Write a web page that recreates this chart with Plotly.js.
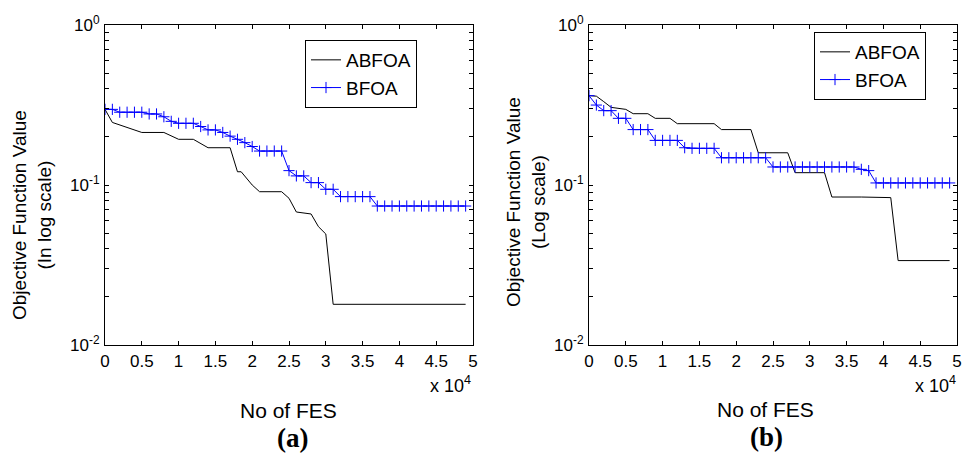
<!DOCTYPE html>
<html><head><meta charset="utf-8">
<script src="https://cdn.plot.ly/plotly-3.0.1.min.js"></script>
<style>html,body{margin:0;padding:0;background:#fff}#c{width:975px;height:457px}</style>
</head><body><div id="c"></div>
<script>
// ---- data ----
const fesMarkers = [];
for (let k = 0; k < 50; k++) fesMarkers.push(k * 1000);

// Plot (a)
const aBFOA = [0.297,0.297,0.285,0.285,0.285,0.285,0.278,0.278,0.267,0.250,
               0.243,0.243,0.243,0.232,0.221,0.221,0.213,0.202,0.193,0.184,
               0.174,0.163,0.163,0.163,0.163,0.123,0.114,0.114,0.1035,0.1035,
               0.094,0.094,0.0846,0.0846,0.0846,0.0846,0.0846,0.0739,0.0739,0.0739,
               0.0739,0.0739,0.0739,0.0739,0.0739,0.0739,0.0739,0.0739,0.0739,0.0739];
const aABFOA_x = [0,1000,5000,8000,10000,12000,14000,17000,18000,18500,20000,21000,24000,25000,26000,28000,29000,30000,31000,49000];
const aABFOA_y = [0.297,0.246,0.213,0.213,0.193,0.193,0.171,0.171,0.121,0.121,0.100,0.0908,0.0908,0.0826,0.0678,0.0659,0.0549,0.0494,0.01796,0.01796];

// Plot (b)
const bBFOA = [0.3617,0.316,0.2916,0.2916,0.261,0.261,0.222,0.222,0.222,0.190,
               0.190,0.190,0.190,0.171,0.1695,0.1695,0.1695,0.1695,0.148,0.148,
               0.148,0.148,0.148,0.148,0.148,0.1296,0.1296,0.1296,0.1296,0.1296,
               0.1296,0.1296,0.1296,0.1296,0.1296,0.1296,0.1296,0.1253,0.123,0.103,
               0.103,0.103,0.103,0.103,0.103,0.103,0.103,0.103,0.103,0.103];
const bABFOA_x = [0,1000,2000,3000,5000,6000,8000,9000,11000,12000,17000,18000,22000,23000,27000,28000,32000,33000,37000,41000,42000,49000];
const bABFOA_y = [0.3617,0.359,0.332,0.3057,0.297,0.279,0.279,0.261,0.261,0.2417,0.2417,0.222,0.222,0.159,0.159,0.1194,0.1194,0.0841,0.0841,0.0834,0.0337,0.0337];

const xTickVals = [0,5000,10000,15000,20000,25000,30000,35000,40000,45000,50000];
const xTickText = ['0','0.5','1','1.5','2','2.5','3','3.5','4','4.5','5'];
const yTickVals = [0.01, 0.1, 1];
const yTickText = ['10<sup>-2</sup>', '10<sup>-1</sup>', '10<sup>0</sup>'];

// ---- layout helpers ----
const W = 975, H = 457;
const px = x => x / W, py = y => 1 - y / H;
const font = 'Liberation Sans, Arial, sans-serif';

function xaxis(domain, anchor){
  return {domain, anchor, range:[0,50000], tickmode:'array', tickvals:xTickVals, ticktext:xTickText,
    ticks:'inside', ticklen:4, tickwidth:1, tickcolor:'#000', mirror:'ticks',
    showline:true, linecolor:'#000', linewidth:1, showgrid:false, zeroline:false,
    tickfont:{family:font, size:17, color:'#000'}, ticklabelstandoff:1};
}
function yaxis(domain, anchor){
  return {domain, anchor, type:'log', range:[-2,0], tickmode:'array', tickvals:yTickVals, ticktext:yTickText,
    ticks:'inside', ticklen:4, tickwidth:1, tickcolor:'#000', mirror:'ticks',
    minor:{ticks:'inside', ticklen:4, tickwidth:1, tickcolor:'#000', dtick:'D1', showgrid:false},
    showline:true, linecolor:'#000', linewidth:1, showgrid:false, zeroline:false,
    tickfont:{family:font, size:17, color:'#000'}, ticklabelstandoff:1};
}

const yDom = [py(345), py(25)];
const traces = [
  {x:aABFOA_x, y:aABFOA_y, xaxis:'x', yaxis:'y', name:'ABFOA', mode:'lines',
   line:{color:'#000', width:1}, legend:'legend'},
  {x:fesMarkers, y:aBFOA, xaxis:'x', yaxis:'y', name:'BFOA', mode:'lines+markers',
   line:{color:'#0000ff', width:1}, marker:{symbol:'cross-thin', size:8, line:{color:'#0000ff', width:1}}, legend:'legend'},
  {x:bABFOA_x, y:bABFOA_y, xaxis:'x2', yaxis:'y2', name:'ABFOA', mode:'lines',
   line:{color:'#000', width:1}, legend:'legend2'},
  {x:fesMarkers, y:bBFOA, xaxis:'x2', yaxis:'y2', name:'BFOA', mode:'lines+markers',
   line:{color:'#0000ff', width:1}, marker:{symbol:'cross-thin', size:8, line:{color:'#0000ff', width:1}}, legend:'legend2'}
];

const legendStyle = (x, y) => ({x, y, xanchor:'left', yanchor:'top', bgcolor:'#fff',
  bordercolor:'#000', borderwidth:1, font:{family:font, size:19, color:'#000'},
  tracegroupgap:0, itemwidth:30});

const ann = (x, y, text, size, opts={}) => Object.assign({xref:'paper', yref:'paper',
  x:px(x), y:py(y), text, showarrow:false, xanchor:'center', yanchor:'middle',
  font:{family:font, size, color:'#000'}}, opts);
const serif = {family:'Liberation Serif, Times New Roman, serif', size:27, color:'#000'};

const layout = {
  width:W, height:H, margin:{l:0,r:0,t:0,b:0}, paper_bgcolor:'#fff', plot_bgcolor:'#fff',
  showlegend:true,
  xaxis: xaxis([px(105), px(473)], 'y'),
  yaxis: yaxis(yDom, 'x'),
  xaxis2: xaxis([px(589), px(957)], 'y2'),
  yaxis2: yaxis(yDom, 'x2'),
  legend: legendStyle(px(305), py(40)),
  legend2: legendStyle(px(814), py(32)),
  annotations: [
    ann(450, 384, 'x 10<sup>4</sup>', 18),
    ann(935, 384, 'x 10<sup>4</sup>', 18),
    ann(288, 410, 'No of FES', 21),
    ann(765, 409, 'No of FES', 21),
    ann(292, 438, '<b>(a)</b>', 27, {font:serif}),
    ann(766, 437, '<b>(b)</b>', 27, {font:serif}),
    ann(32, 215, 'Objective Function Value<br>(In log scale)', 19, {textangle:-90}),
    ann(526, 202, 'Objective Function Value<br>(Log scale)', 19, {textangle:-90})
  ]
};

Plotly.newPlot('c', traces, layout, {staticPlot:true, displayModeBar:false});
</script></body></html>
